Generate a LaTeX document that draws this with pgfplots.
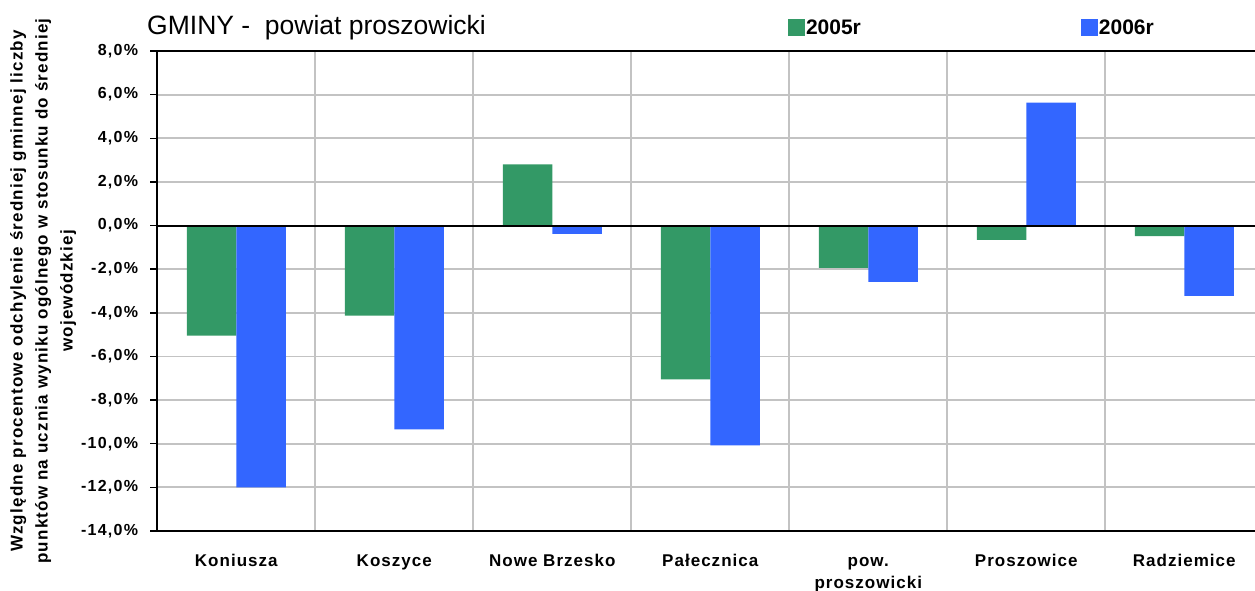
\documentclass[border=0pt]{standalone}
\usepackage{fontspec}
\setmainfont{Liberation Sans}
\newfontfamily\ytickfont[LetterSpace=8]{Liberation Sans}
\newfontfamily\xtickfont[LetterSpace=6]{Liberation Sans}
\newfontfamily\ylabfont[LetterSpace=7]{Liberation Sans}
\usepackage{pgfplots}
\pgfplotsset{compat=1.18}
\definecolor{g05}{RGB}{51,153,102}
\definecolor{b06}{RGB}{51,102,255}
\definecolor{gridc}{RGB}{195,195,195}

\begin{document}
\begin{tikzpicture}
\begin{axis}[
  at={(157.3bp,60bp)}, anchor=south west,
  scale only axis, width=1106bp, height=480bp,
  xmin=-0.5, xmax=6.5, ymin=-14, ymax=8,
  axis line style={draw=none},
  clip=false,
  xtick={0,...,6},
  xticklabels={\strut Koniusza, \strut Koszyce, \strut Nowe Brzesko, \strut Pałecznica, {\strut pow.\\proszowicki}, \strut Proszowice, \strut Radziemice},
  xtick style={draw=none},
  minor xtick={0.5,1.5,...,5.5},
  xminorgrids, ymajorgrids,
  grid style={gridc, line width=1.8bp},
  minor grid style={gridc, line width=1.8bp},
  minor tick length=0pt,
  ytick={-14,-12,...,8},
  yticklabels={{-14,0\%},{-12,0\%},{-10,0\%},{-8,0\%},{-6,0\%},{-4,0\%},{-2,0\%},{0,0\%},{2,0\%},{4,0\%},{6,0\%},{8,0\%}},
  ytick pos=left, ytick align=outside, major tick length=7bp,
  ytick style={black, line width=1.5bp},
  yticklabel style={font=\ytickfont\bfseries\fontsize{16bp}{18bp}\selectfont, inner sep=0pt, anchor=east, xshift=-12bp},
  xticklabel style={font=\xtickfont\bfseries\fontsize{17bp}{22bp}\selectfont, align=center, inner sep=0pt, anchor=north, yshift=-19.6bp},
  ylabel={Względne procentowe odchylenie średniej gminnej liczby\\punktów na ucznia wyniku ogólnego w stosunku do średniej\\wojewódzkiej},
  ylabel style={at={(axis description cs:-0.1033,0.5)}, anchor=center, align=center, inner sep=0pt, font=\ylabfont\bfseries\fontsize{17bp}{25bp}\selectfont},
  legend columns=2,
  legend style={draw=none, fill=none, inner sep=0pt, outer sep=0pt, at={(axis description cs:0.5703,1.049)}, anchor=west, font=\bfseries\fontsize{21bp}{24bp}\selectfont, /tikz/every even column/.append style={column sep=219bp}, nodes={inner sep=1bp}},
  legend image code/.code={\path[#1,draw=none] (0bp,-8.5bp) rectangle (17bp,8.5bp);},
]
\addplot[ybar, bar width=49.5bp, bar shift=-24.75bp, fill=g05, draw=none] coordinates {(0,-5.05) (1,-4.13) (2,2.80) (3,-7.05) (4,-1.94) (5,-0.66) (6,-0.48)};
\addlegendentry{2005r}
\addplot[ybar, bar width=49.5bp, bar shift=24.75bp, fill=b06, draw=none] coordinates {(0,-12.0) (1,-9.34) (2,-0.38) (3,-10.07) (4,-2.58) (5,5.63) (6,-3.22)};
\addlegendentry{2006r}
\draw[black, line width=2bp] (axis cs:-0.5,0) -- (axis cs:6.5,0);
\draw[black, line width=2bp] (rel axis cs:1,1) -- (rel axis cs:0,1) -- (rel axis cs:0,0) -- (rel axis cs:1,0);
\end{axis}
\node[anchor=base west, inner sep=0pt, font=\fontsize{26.5bp}{30bp}\selectfont] at (147bp,556bp) {GMINY - \ powiat proszowicki};
\pgfresetboundingbox
\useasboundingbox (0,0) rectangle (1255bp,591bp);
\end{tikzpicture}
\end{document}
